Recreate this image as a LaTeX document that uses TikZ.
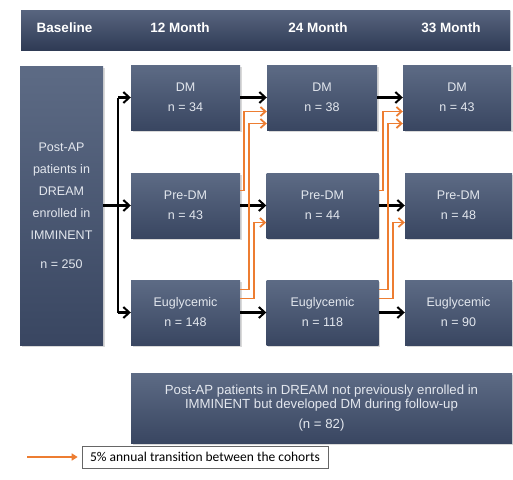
\documentclass[tikz,border=0pt]{standalone}
\usepackage{fontspec}
\setmainfont{Liberation Sans}
\newfontfamily\keyfont{Carlito}
\usetikzlibrary{arrows.meta,calc,shadows}

\definecolor{slatetop}{HTML}{5D6B85}
\definecolor{slatebot}{HTML}{394661}
\definecolor{bartop}{HTML}{58657F}
\definecolor{barbot}{HTML}{2F3B55}
\definecolor{boxtext}{HTML}{E3E7EE}
\definecolor{shiftorange}{HTML}{ED7D31}

\tikzset{
  cohort/.style={rectangle,top color=slatetop,bottom color=slatebot,text=boxtext,
    align=center,inner sep=0pt,font=\fontsize{12.5}{20}\selectfont,
    drop shadow={shadow xshift=1.5pt,shadow yshift=-1.5pt,opacity=0.3}},
  colhead/.style={text=white,font=\fontsize{13.5}{16}\selectfont\bfseries},
  flow/.style={line width=2.2pt,-{Straight Barb[length=6pt,width=11pt,line width=2pt]}},
  trans/.style={shiftorange,line width=1.8pt,-{Straight Barb[length=5pt,width=9pt,line width=1.8pt]}}
}

\begin{document}
\begin{tikzpicture}[x=1pt,y=-1pt]
  \useasboundingbox (0,0) rectangle (513,479);
  % header bar
  \node[rectangle,top color=bartop,bottom color=barbot,minimum width=489pt,minimum height=40pt,
    drop shadow={shadow xshift=1pt,shadow yshift=-1pt,opacity=0.25}] (bar) at (265.5,30) {};
  \node[colhead] (hbase) at (64.5,28) {Baseline};
  \node[colhead] (h12) at (180,28) {12 Month};
  \node[colhead] (h24) at (318,28) {24 Month};
  \node[colhead] (h33) at (451,28) {33 Month};

  % cohorts
  \node[cohort,minimum width=83pt,minimum height=279pt,font=\fontsize{12.5}{22}\selectfont] (base) at (61.5,205.5)
    {Post-AP\\patients in\\DREAM\\enrolled in\\IMMINENT\\[7pt]n = 250};
  \node[cohort,minimum width=109pt,minimum height=65pt] (dm1) at (185.5,97.5) {DM\\n = 34};
  \node[cohort,minimum width=109pt,minimum height=65pt] (pre1) at (185.5,205.5) {Pre-DM\\n = 43};
  \node[cohort,minimum width=109pt,minimum height=65pt] (eu1) at (185.5,312.5) {Euglycemic\\n = 148};
  \node[cohort,minimum width=110pt,minimum height=65pt] (dm2) at (322,97.5) {DM\\n = 38};
  \node[cohort,minimum width=112pt,minimum height=65pt] (pre2) at (322.5,205.5) {Pre-DM\\n = 44};
  \node[cohort,minimum width=112pt,minimum height=65pt] (eu2) at (322.5,312.5) {Euglycemic\\n = 118};
  \node[cohort,minimum width=108pt,minimum height=65pt] (dm3) at (457,97.5) {DM\\n = 43};
  \node[cohort,minimum width=107pt,minimum height=65pt] (pre3) at (458.5,205.5) {Pre-DM\\n = 48};
  \node[cohort,minimum width=107pt,minimum height=65pt] (eu3) at (458.5,312.5) {Euglycemic\\n = 90};
  \node[cohort,minimum width=381pt,minimum height=70pt,font=\fontsize{13.2}{14.5}\selectfont] (late) at (321.5,408)
    {Post-AP patients in DREAM not previously enrolled in\\IMMINENT but developed DM during follow-up\\[5pt](n = 82)};

  % baseline split
  \coordinate (split) at (118,205.5);
  \draw[line width=2.2pt] (base.east) -- (split);
  \draw[line width=2.2pt] (split |- dm1.west) -- (split |- eu1.west);
  \foreach \c in {dm1,pre1,eu1}
    \draw[flow] (split |- \c.west) -- (\c.west);
  \foreach \a/\b in {dm1/dm2,pre1/pre2,eu1/eu2,dm2/dm3,pre2/pre3,eu2/eu3}
    \draw[flow] (\a.east) -- (\a.east -| \b.west);

  % transitions
  \foreach \a/\b/\c/\d in {pre1/eu1/dm2/pre2,pre2/eu2/dm3/pre3} {
    \draw[trans] ($(\a.east)+(0,-15)$) -- ++(4,0) |- ($(\c.west)+(0,14)$);
    \draw[trans] ($(\b.east)+(0,-23)$) -- ++(9,0) |- ($(\c.west)+(0,26)$);
    \draw[trans] ($(\b.east)+(0,-14)$) -- ++(14,0) |- ($(\d.west)+(0,17)$);
  }

  % key
  \node[draw=black!60,fill=white,line width=0.6pt,minimum width=246pt,minimum height=22pt,inner sep=0pt,
    font=\keyfont\fontsize{13.5}{15}\selectfont] (key) at (205,457) {5\% annual transition between the cohorts};
  \coordinate (keytail) at (27,457);
  \draw[shiftorange,line width=1.8pt,-{Triangle[length=6pt,width=7pt]}] (keytail) -- ([xshift=-4pt]key.west);
\end{tikzpicture}
\end{document}
